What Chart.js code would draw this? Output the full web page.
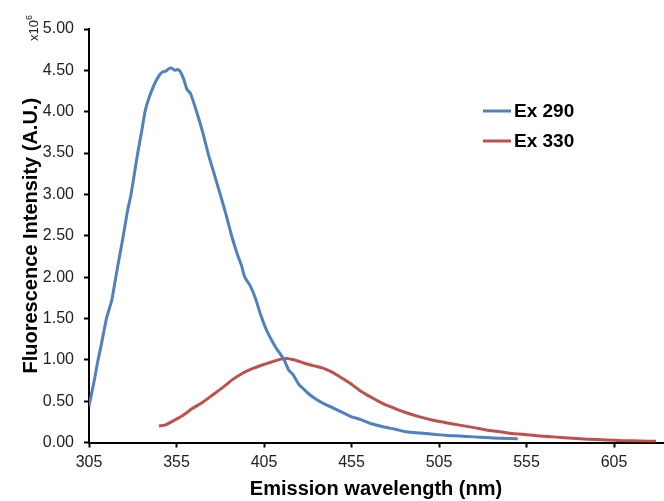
<!DOCTYPE html>
<html>
<head>
<meta charset="utf-8">
<script src="https://cdn.jsdelivr.net/npm/chart.js@4"></script>
<style>
  html, body { margin: 0; padding: 0; background: #fff; }
  #wrap { width: 664px; height: 501px; }
</style>
</head>
<body>
<div id="wrap"><canvas id="spectraChart" width="664" height="501"></canvas></div>
<script>
// emission spectra, intensity in units of 10^6
const ex290Wavelength = [305, 308, 310, 312, 315, 318, 320, 322, 324.6, 327, 329, 331, 333, 335, 337, 339, 341.7, 343.5, 345.5, 347, 349, 350, 352, 354, 355.5, 357, 359, 361, 363, 366.5, 370, 373, 376.5, 380, 383, 386.5, 390, 392, 394, 397, 400, 403, 406.4, 409.3, 412, 414, 416.5, 419, 421.6, 425, 428, 431, 435, 440, 444.4, 448.3, 455, 460, 466, 473, 480, 486.3, 494, 501.5, 510, 516.8, 525, 532, 540, 550];
const ex290Intensity = [0.44, 0.75, 0.98, 1.18, 1.50, 1.72, 1.96, 2.20, 2.50, 2.80, 3.00, 3.26, 3.52, 3.75, 4.00, 4.15, 4.30, 4.38, 4.45, 4.48, 4.49, 4.51, 4.53, 4.50, 4.51, 4.49, 4.40, 4.27, 4.22, 4.00, 3.75, 3.50, 3.25, 3.00, 2.78, 2.50, 2.26, 2.15, 2.00, 1.90, 1.75, 1.55, 1.36, 1.24, 1.14, 1.08, 1.00, 0.88, 0.82, 0.70, 0.64, 0.58, 0.52, 0.46, 0.42, 0.38, 0.31, 0.28, 0.23, 0.19, 0.16, 0.13, 0.115, 0.10, 0.085, 0.078, 0.068, 0.06, 0.052, 0.045];

const ex330Wavelength = [345, 348.4, 353, 358.8, 364, 370.2, 376, 381.7, 387, 393, 398, 404.5, 409, 414, 417.8, 422, 427.3, 433, 438.7, 443, 446.4, 451, 454, 459.7, 466, 473, 480, 486.3, 494, 501.5, 509, 516.8, 525, 532, 540, 547, 555, 562.4, 572, 581.4, 590, 600.5, 610, 620, 629];
const ex330Intensity = [0.20, 0.21, 0.26, 0.33, 0.41, 0.49, 0.58, 0.67, 0.76, 0.84, 0.89, 0.94, 0.97, 1.005, 1.017, 1.00, 0.965, 0.93, 0.90, 0.86, 0.82, 0.76, 0.72, 0.63, 0.55, 0.47, 0.41, 0.36, 0.31, 0.27, 0.24, 0.21, 0.18, 0.15, 0.13, 0.11, 0.095, 0.08, 0.065, 0.05, 0.04, 0.03, 0.022, 0.018, 0.015];

const seriesLabels = ['Ex 290', 'Ex 330'];
const xTickValues = [305, 355, 405, 455, 505, 555, 605];
const yTickValues = [0, 0.5, 1, 1.5, 2, 2.5, 3, 3.5, 4, 4.5, 5];

const FONT = "'Liberation Sans', Arial, sans-serif";
const BLUE = '#4F81BD';
const RED = '#C0504D';

function toPoints(xs, ys) {
    return xs.map((x, i) => ({ x: x, y: ys[i] }));
}

// legend inside the plot + the x10^6 multiplier
const extrasPlugin = {
    id: 'extras',
    afterDraw(chart) {
        const ctx = chart.ctx;
        ctx.save();

        chart.data.datasets.forEach((ds, i) => {
            const y = 111 + i * 30;
            ctx.strokeStyle = ds.borderColor;
            ctx.lineWidth = 3;
            ctx.beginPath();
            ctx.moveTo(483, y);
            ctx.lineTo(511, y);
            ctx.stroke();
            ctx.fillStyle = '#000';
            ctx.font = 'bold 19px ' + FONT;
            ctx.textAlign = 'left';
            ctx.textBaseline = 'middle';
            ctx.fillText(ds.label, 514, y + 1);
        });

        ctx.translate(38, 41);
        ctx.rotate(-Math.PI / 2);
        ctx.fillStyle = '#222';
        ctx.textAlign = 'left';
        ctx.textBaseline = 'alphabetic';
        ctx.font = '13px ' + FONT;
        ctx.fillText('x10', 0, 0);
        const w = ctx.measureText('x10').width;
        ctx.font = '9px ' + FONT;
        ctx.fillText('6', w, -6);
        ctx.restore();
    }
};

new Chart(document.getElementById('spectraChart').getContext('2d'), {
    type: 'line',
    data: {
        datasets: [
            {
                label: seriesLabels[0],
                data: toPoints(ex290Wavelength, ex290Intensity),
                borderColor: BLUE,
                borderWidth: 3,
                pointRadius: 0,
                tension: 0.2,
                fill: false
            },
            {
                label: seriesLabels[1],
                data: toPoints(ex330Wavelength, ex330Intensity),
                borderColor: RED,
                borderWidth: 3,
                pointRadius: 0,
                tension: 0.2,
                fill: false
            }
        ]
    },
    options: {
        responsive: false,
        animation: false,
        layout: { padding: { left: 0, right: 1, top: 29, bottom: 0 } },
        plugins: {
            legend: { display: false },
            tooltip: { enabled: false }
        },
        scales: {
            x: {
                type: 'linear',
                min: 305,
                max: 633,
                afterBuildTicks: scale => { scale.ticks = xTickValues.map(v => ({ value: v })); },
                afterFit: scale => { scale.height = 58.5; },
                border: { color: '#000', width: 2 },
                grid: { drawOnChartArea: false, tickLength: 5, tickColor: '#000', tickWidth: 2 },
                ticks: { color: '#222', font: { family: FONT, size: 16 }, padding: 5, maxRotation: 0, autoSkip: false },
                title: {
                    display: true,
                    text: 'Emission wavelength (nm)',
                    color: '#000',
                    font: { family: FONT, size: 20, weight: 'bold' },
                    padding: { top: 2, bottom: 0 }
                }
            },
            y: {
                type: 'linear',
                min: 0,
                max: 5,
                afterBuildTicks: scale => { scale.ticks = yTickValues.map(v => ({ value: v })); },
                afterFit: scale => { scale.width = 89; },
                border: { color: '#000', width: 2 },
                grid: { drawOnChartArea: false, tickLength: 5, tickColor: '#000', tickWidth: 2 },
                ticks: {
                    color: '#222',
                    font: { family: FONT, size: 16 },
                    padding: 10,
                    callback: v => v.toFixed(2)
                },
                title: {
                    display: true,
                    text: 'Fluorescence Intensity (A.U.)',
                    color: '#000',
                    font: { family: FONT, size: 20, weight: 'bold' },
                    padding: { top: 19, bottom: 0 }
                }
            }
        }
    },
    plugins: [extrasPlugin]
});
</script>
</body>
</html>
